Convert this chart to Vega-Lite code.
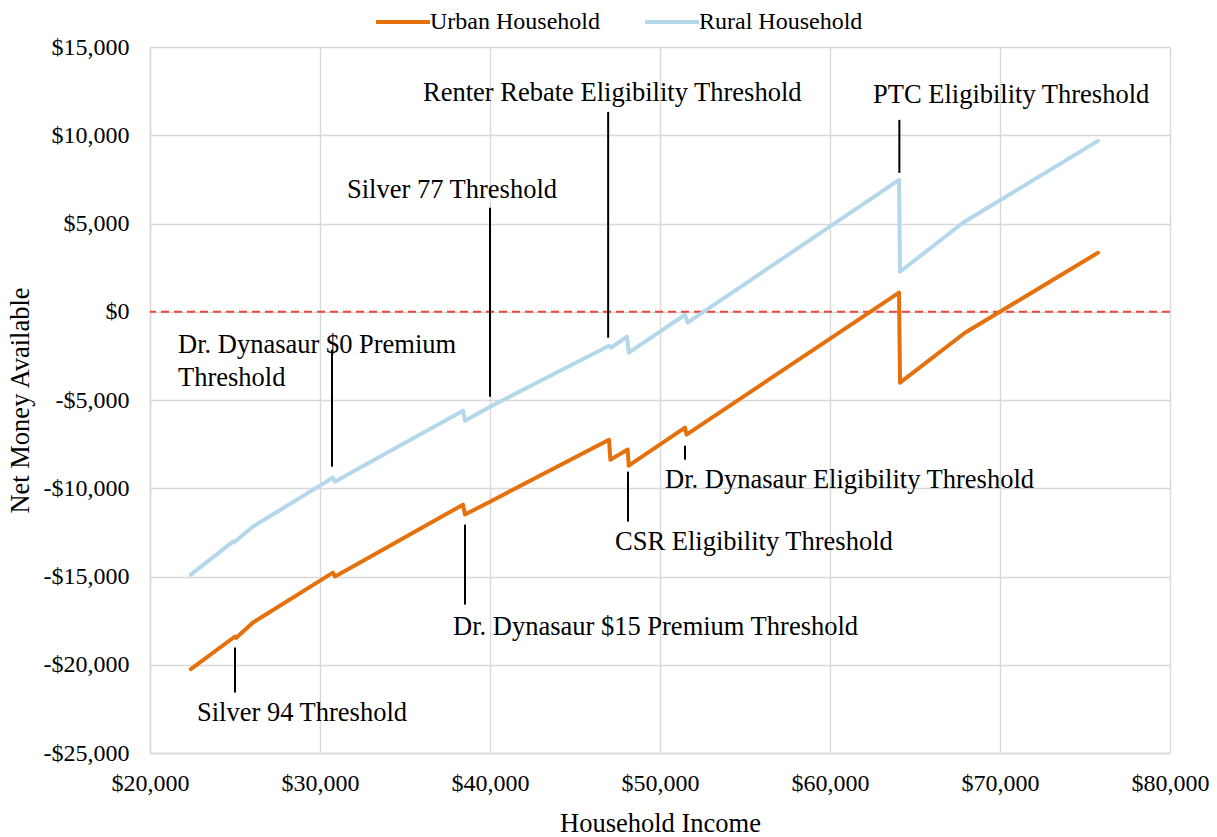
{
  "$schema": "https://vega.github.io/schema/vega-lite/v6.json",
  "autosize": {"type": "none"},
  "width": 1020,
  "height": 706,
  "padding": {"left": 150, "top": 47, "right": 47, "bottom": 84},
  "background": "white",
  "config": {
    "view": {"stroke": null},
    "font": "Liberation Serif",
    "axis": {
      "labelFont": "Liberation Serif",
      "titleFont": "Liberation Serif",
      "labelColor": "#000000",
      "titleColor": "#000000",
      "labelFontSize": 24,
      "titleFontSize": 26.5,
      "titleFontWeight": "normal",
      "gridColor": "#d9d9d9",
      "gridWidth": 1.4,
      "domainColor": "#d9d9d9",
      "domainWidth": 1.4,
      "ticks": false,
      "tickSize": 0
    },
    "legend": {
      "labelFont": "Liberation Serif",
      "labelFontSize": 24,
      "labelColor": "#000000",
      "labelLimit": 0
    }
  },
  "datasets": {
    "series": [
      {"income": 22400, "net": -20250, "household": "Urban Household"},
      {"income": 25000, "net": -18400, "household": "Urban Household"},
      {"income": 25060, "net": -18480, "household": "Urban Household"},
      {"income": 26060, "net": -17610, "household": "Urban Household"},
      {"income": 30760, "net": -14780, "household": "Urban Household"},
      {"income": 30880, "net": -15000, "household": "Urban Household"},
      {"income": 31940, "net": -14440, "household": "Urban Household"},
      {"income": 38410, "net": -10930, "household": "Urban Household"},
      {"income": 38530, "net": -11490, "household": "Urban Household"},
      {"income": 40000, "net": -10760, "household": "Urban Household"},
      {"income": 47000, "net": -7250, "household": "Urban Household"},
      {"income": 47080, "net": -8380, "household": "Urban Household"},
      {"income": 48100, "net": -7810, "household": "Urban Household"},
      {"income": 48160, "net": -8720, "household": "Urban Household"},
      {"income": 51470, "net": -6570, "household": "Urban Household"},
      {"income": 51560, "net": -6960, "household": "Urban Household"},
      {"income": 64060, "net": 1080, "household": "Urban Household"},
      {"income": 64120, "net": -4020, "household": "Urban Household"},
      {"income": 67940, "net": -1190, "household": "Urban Household"},
      {"income": 75760, "net": 3340, "household": "Urban Household"},
      {"income": 22400, "net": -14890, "household": "Rural Household"},
      {"income": 24880, "net": -13020, "household": "Rural Household"},
      {"income": 24950, "net": -13060, "household": "Rural Household"},
      {"income": 26060, "net": -12170, "household": "Rural Household"},
      {"income": 30760, "net": -9400, "household": "Rural Household"},
      {"income": 30880, "net": -9625, "household": "Rural Household"},
      {"income": 32060, "net": -9000, "household": "Rural Household"},
      {"income": 38410, "net": -5605, "household": "Rural Household"},
      {"income": 38530, "net": -6170, "household": "Rural Household"},
      {"income": 40000, "net": -5380, "household": "Rural Household"},
      {"income": 47000, "net": -1925, "household": "Rural Household"},
      {"income": 47120, "net": -2040, "household": "Rural Household"},
      {"income": 48060, "net": -1415, "household": "Rural Household"},
      {"income": 48160, "net": -2320, "household": "Rural Household"},
      {"income": 51470, "net": -170, "household": "Rural Household"},
      {"income": 51620, "net": -620, "household": "Rural Household"},
      {"income": 64060, "net": 7470, "household": "Rural Household"},
      {"income": 64120, "net": 2265, "household": "Rural Household"},
      {"income": 67820, "net": 5040, "household": "Rural Household"},
      {"income": 75760, "net": 9680, "household": "Rural Household"}
    ],
    "leaders": [
      {"income": 25000, "top": -19024, "bottom": -21572},
      {"income": 30706, "top": -2152, "bottom": -8776},
      {"income": 40000, "top": 5888, "bottom": -4813},
      {"income": 46950, "top": 11324, "bottom": -1472},
      {"income": 64080, "top": 10871, "bottom": 7870},
      {"income": 51470, "top": -7587, "bottom": -8380},
      {"income": 48118, "top": -9059, "bottom": -11890},
      {"income": 38529, "top": -12060, "bottom": -16590}
    ],
    "labels": [
      {"income": 22765, "net": -22761, "label": "Silver 94 Threshold"},
      {"income": 21647, "net": -1868, "label": "Dr. Dynasaur $0 Premium"},
      {"income": 21647, "net": -3737, "label": "Threshold"},
      {"income": 31588, "net": 6908, "label": "Silver 77 Threshold"},
      {"income": 36059, "net": 12400, "label": "Renter Rebate Eligibility Threshold"},
      {"income": 62529, "net": 12287, "label": "PTC Eligibility Threshold"},
      {"income": 50294, "net": -9512, "label": "Dr. Dynasaur Eligibility Threshold"},
      {"income": 47353, "net": -13023, "label": "CSR Eligibility Threshold"},
      {"income": 37824, "net": -17835, "label": "Dr. Dynasaur $15 Premium Threshold"}
    ],
    "zero": [{"net": 0}]
  },
  "layer": [
    {
      "data": {"name": "zero"},
      "mark": {"type": "rule", "color": "#e8473a", "strokeWidth": 1.8, "strokeDash": [8, 5]},
      "encoding": {
        "y": {"field": "net", "type": "quantitative", "scale": {"domain": [-25000, 15000], "nice": false, "zero": false}}
      }
    },
    {
      "data": {"name": "series"},
      "mark": {"type": "line", "strokeWidth": 4, "strokeCap": "round", "strokeJoin": "round"},
      "encoding": {
        "x": {
          "field": "income", "type": "quantitative",
          "scale": {"domain": [20000, 80000], "nice": false, "zero": false},
          "axis": {
            "title": "Household Income",
            "values": [20000, 30000, 40000, 50000, 60000, 70000, 80000],
            "format": "$,.0f",
            "labelPadding": 18,
            "titleY": 70,
            "titleBaseline": "middle",
            "labelFlush": false
          }
        },
        "y": {
          "field": "net", "type": "quantitative",
          "scale": {"domain": [-25000, 15000], "nice": false, "zero": false},
          "axis": {
            "title": "Net Money Available",
            "values": [-25000, -20000, -15000, -10000, -5000, 0, 5000, 10000, 15000],
            "labelExpr": "datum.value < 0 ? '-$' + format(-datum.value, ',') : '$' + format(datum.value, ',')",
            "labelPadding": 21,
            "titleX": -130,
            "titleY": 353,
            "titleAngle": -90,
            "titleBaseline": "middle",
            "titleAlign": "center",
            "labelFlush": false
          }
        },
        "color": {
          "field": "household", "type": "nominal",
          "scale": {"domain": ["Urban Household", "Rural Household"], "range": ["#E5700C", "#B4D7E9"]},
          "legend": {
            "title": null,
            "orient": "none",
            "direction": "horizontal",
            "legendX": 224,
            "legendY": -54,
            "symbolType": "stroke",
            "symbolSize": 2916,
            "symbolStrokeWidth": 4,
            "labelOffset": -2,
            "labelFontSize": 24,
            "labelLimit": 400,
            "columnPadding": 37,
            "padding": 0
          }
        }
      }
    },
    {
      "data": {"name": "leaders"},
      "mark": {"type": "rule", "color": "#000000", "strokeWidth": 2},
      "encoding": {
        "x": {"field": "income", "type": "quantitative"},
        "y": {"field": "top", "type": "quantitative"},
        "y2": {"field": "bottom"}
      }
    },
    {
      "data": {"name": "labels"},
      "mark": {"type": "text", "align": "left", "baseline": "middle", "font": "Liberation Serif", "fontSize": 26.5, "color": "#000000"},
      "encoding": {
        "x": {"field": "income", "type": "quantitative"},
        "y": {"field": "net", "type": "quantitative"},
        "text": {"field": "label"}
      }
    }
  ]
}
